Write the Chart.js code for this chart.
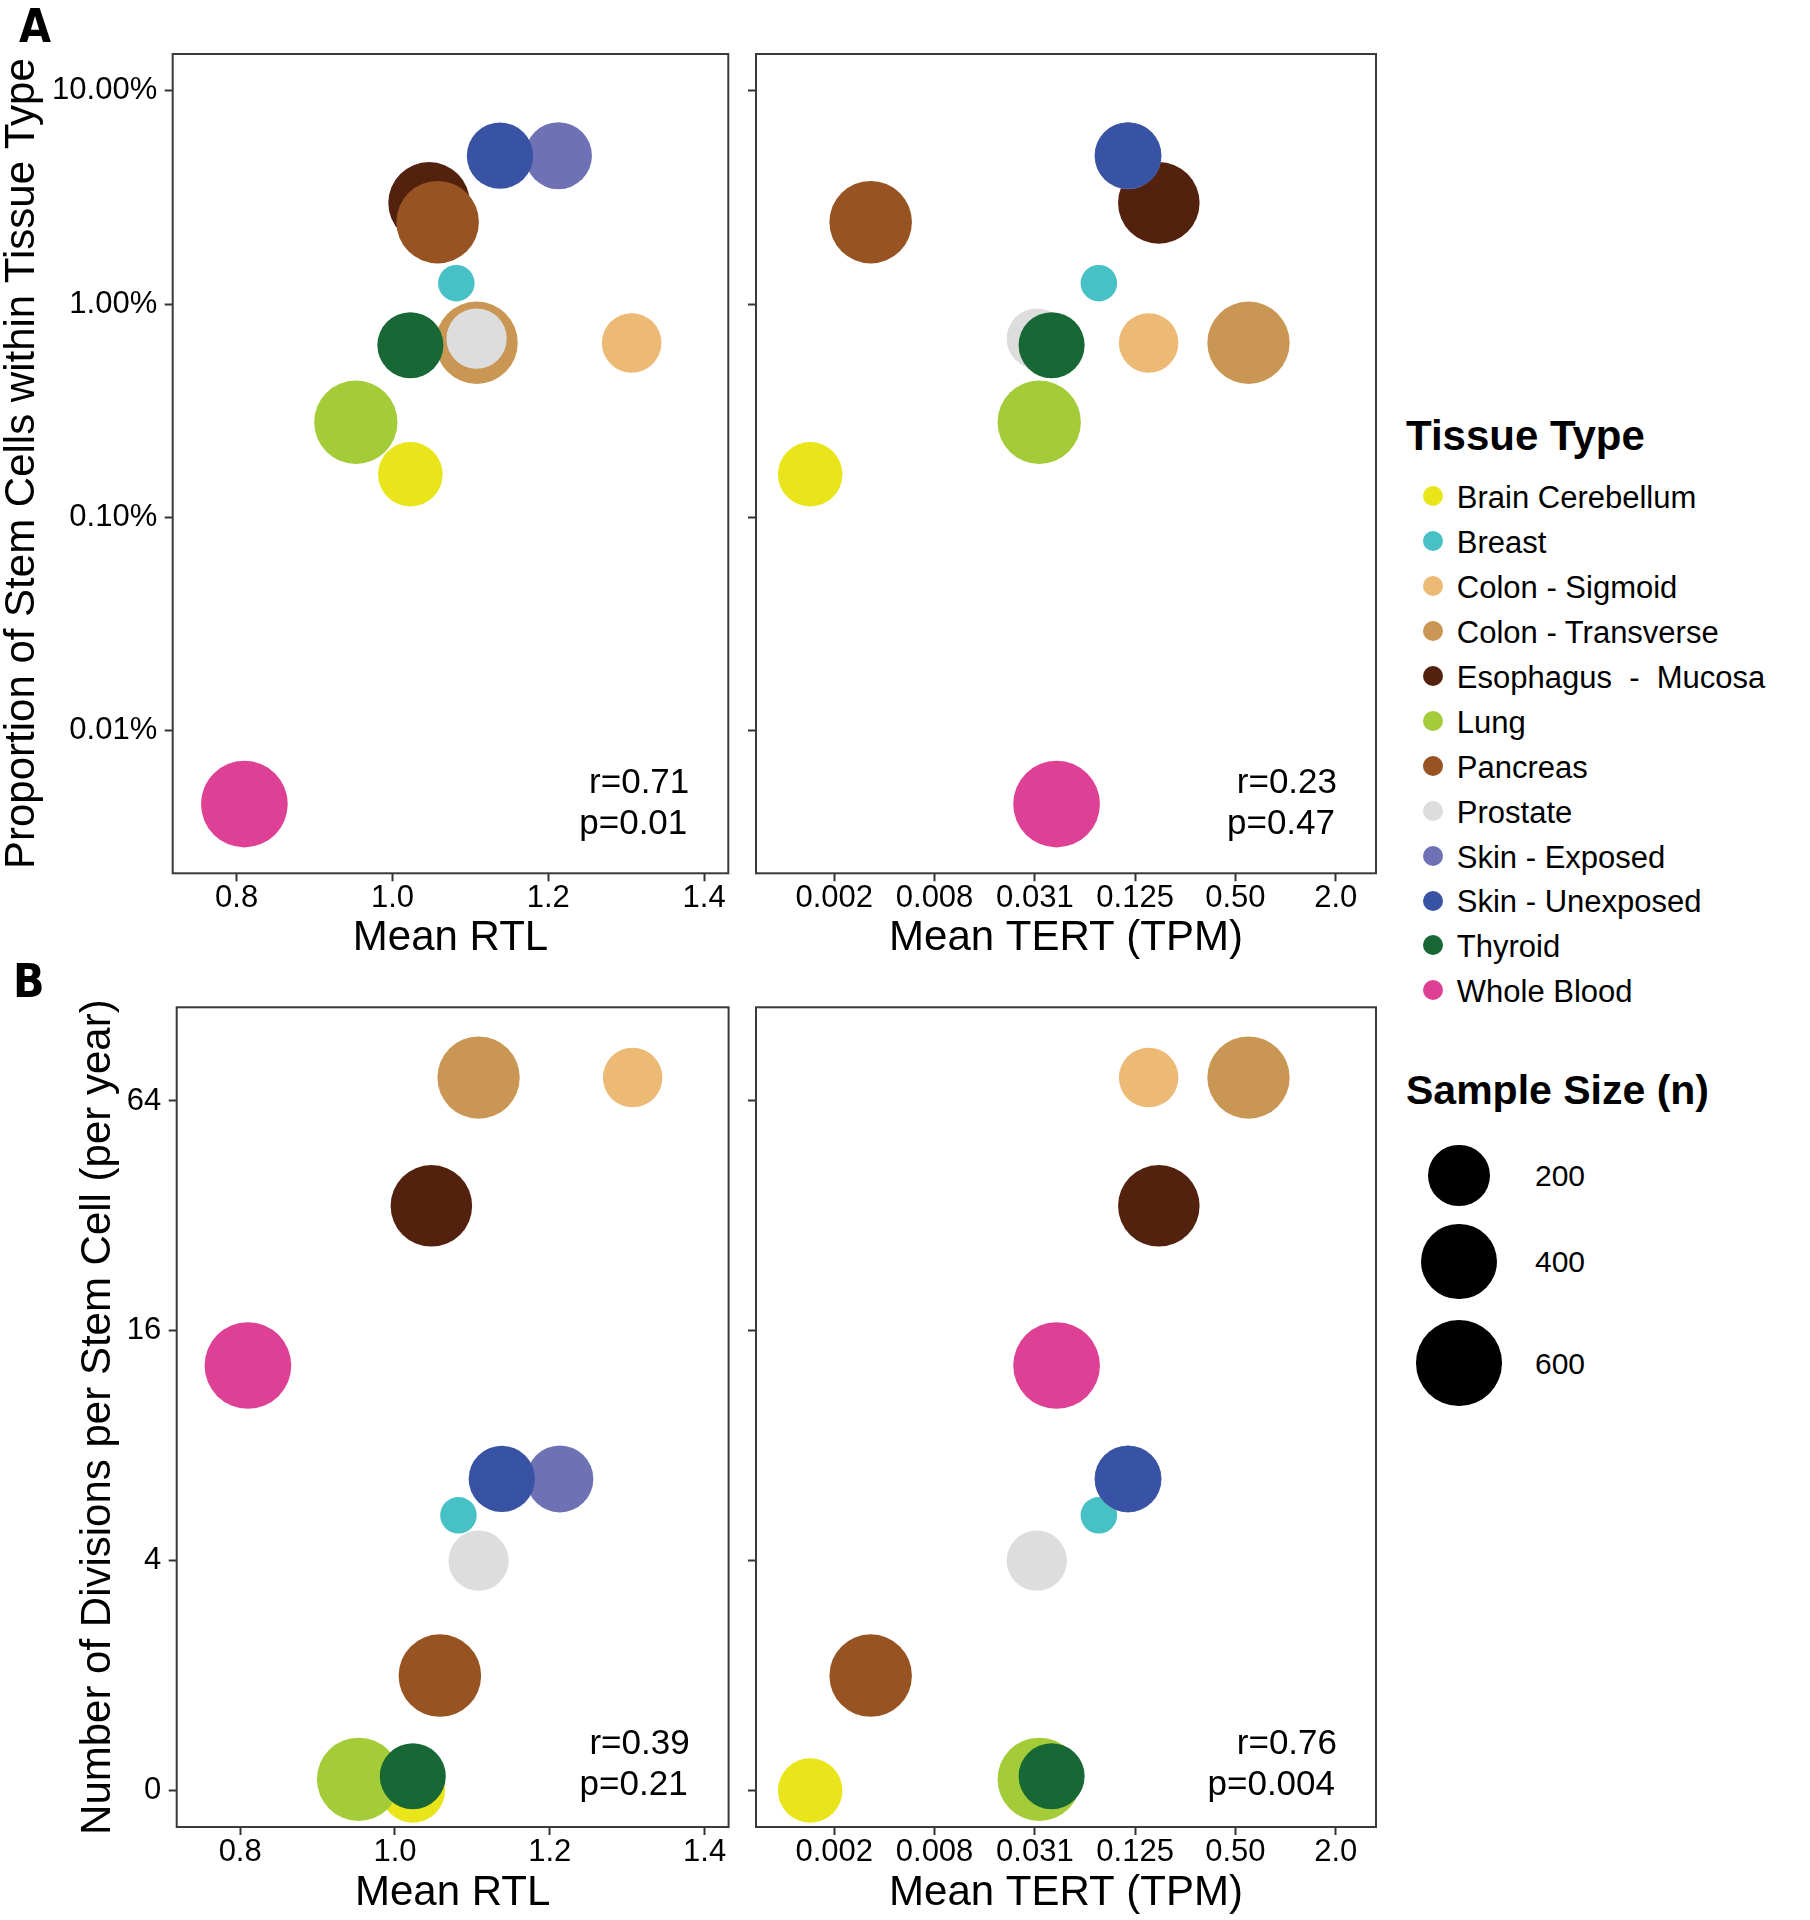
<!DOCTYPE html>
<html>
<head>
<meta charset="utf-8">
<title>Stem cells, RTL and TERT by tissue</title>
<script src="https://cdn.jsdelivr.net/npm/chart.js@4.4.1/dist/chart.umd.min.js"></script>
<style>
  body { margin:0; background:#fff; }
  #page { position:relative; width:1810px; height:1920px; background:#fff; overflow:hidden;
          font-family:'Liberation Sans', Arial, Helvetica, sans-serif; }
  canvas { position:absolute; }
  .txt { position:absolute; white-space:pre; line-height:1; color:#000; }
  .dot { position:absolute; border-radius:50%; }
  .letter { font-family:'Liberation Sans Narrow','DejaVu Sans Condensed','Liberation Sans',sans-serif; font-weight:bold; font-size:46px; }
</style>
</head>
<body>
<div id="page">
  <canvas id="chartA1" width="740" height="956" style="left:0px;top:24px;width:740px;height:956px"></canvas>
  <canvas id="chartA2" width="660" height="956" style="left:740px;top:24px;width:660px;height:956px"></canvas>
  <canvas id="chartB1" width="740" height="943" style="left:0px;top:977px;width:740px;height:943px"></canvas>
  <canvas id="chartB2" width="660" height="943" style="left:740px;top:977px;width:660px;height:943px"></canvas>
  <div class="txt letter" style="left:19px;top:3px">A</div>
  <div class="txt letter" style="left:13px;top:958px">B</div>
  <div id="legend"></div>
</div>
<script>
// tissues, in the order ggplot drew them (later ones sit on top)
const tissues = ['Brain Cerebellum', 'Breast', 'Colon - Sigmoid', 'Colon - Transverse',
  'Esophagus  -  Mucosa', 'Lung', 'Pancreas', 'Prostate', 'Skin - Exposed',
  'Skin - Unexposed', 'Thyroid', 'Whole Blood'];
const tissueColors = ['#E9E51A', '#47C1C5', '#EDBA76', '#CA9653', '#52220E', '#A3CC38',
  '#985323', '#DDDDDD', '#6E72B4', '#3853A4', '#176834', '#DD4095'];

// values
const sampleSize = [234, 58, 177, 528, 512, 549, 532, 184, 266, 257, 253, 622];
const meanRTL = [1.023, 1.082, 1.307, 1.108, 1.047, 0.953, 1.058, 1.108, 1.213, 1.138, 1.023, 0.810];
const meanTERT = [0.00140, 0.0757, 0.1507, 0.599, 0.1734, 0.0332, 0.00323, 0.0321, 0.1133, 0.1133, 0.0394, 0.0422];
const stemCellPct = [0.159, 1.252, 0.657, 0.658, 2.98, 0.279, 2.42, 0.688, 4.96, 4.96, 0.641, 0.00452];
const divisionsPerYear = [1.0, 5.26, 73.7, 73.7, 34.0, 1.07, 2.0, 4.0, 6.55, 6.55, 1.09, 12.98];

// axis ticks and labels
const rtlTicks = [0.8, 1.0, 1.2, 1.4];
const rtlTickLabels = ['0.8', '1.0', '1.2', '1.4'];
const tertTicks = [Math.pow(2, -9), Math.pow(2, -7), Math.pow(2, -5), Math.pow(2, -3), Math.pow(2, -1), 2];
const tertTickLabels = ['0.002', '0.008', '0.031', '0.125', '0.50', '2.0'];
const pctTicks = [0.01, 0.1, 1, 10];
const pctTickLabels = ['0.01%', '0.10%', '1.00%', '10.00%'];
const divTicks = [1, 4, 16, 64];
const divTickLabels = ['0', '4', '16', '64'];

const sizeLegendValues = [200, 400, 600];
const corrR = ['r=0.71', 'r=0.23', 'r=0.39', 'r=0.76'];
const corrP = ['p=0.01', 'p=0.47', 'p=0.21', 'p=0.004'];

const FONT = "'Liberation Sans', Arial, Helvetica, sans-serif";
Chart.defaults.font.family = FONT;
Chart.defaults.color = '#000';

// point size scale (diameter in px grows with sqrt of sample size, like scale_size)
const D_MIN = 36.5, D_MAX = 86.7;
function pointDiameter(n) {
  const nMin = Math.min(...sampleSize), nMax = Math.max(...sampleSize);
  return D_MIN + (D_MAX - D_MIN) * Math.sqrt((n - nMin) / (nMax - nMin));
}

// panel box + r / p text
const panelFrame = {
  id: 'panelFrame',
  afterDraw(chart, args, opts) {
    const ctx = chart.ctx, a = chart.chartArea;
    ctx.save();
    ctx.strokeStyle = '#3a3a3a';
    ctx.lineWidth = 2;
    ctx.strokeRect(a.left, a.top, a.right - a.left, a.bottom - a.top);
    ctx.fillStyle = '#000';
    ctx.font = '35px ' + FONT;
    ctx.textAlign = 'right';
    ctx.textBaseline = 'alphabetic';
    ctx.fillText(opts.r, a.right - 39, a.bottom - opts.rOff);
    ctx.fillText(opts.p, a.right - 41, a.bottom - opts.pOff);
    ctx.restore();
  }
};

function axisCfg(kind, min, max, ticks, labels, showLabels, title, titlePad) {
  const cfg = {
    type: kind,
    min: min,
    max: max,
    bounds: 'data',
    border: { display: false },
    grid: { drawOnChartArea: false, drawTicks: true, tickLength: 8, tickColor: '#333', tickWidth: 2, color: '#333' },
    ticks: {
      display: showLabels,
      autoSkip: false,
      maxRotation: 0,
      font: { size: 31, lineHeight: 1 },
      color: '#000',
      callback: (v, i) => labels[i]
    },
    afterBuildTicks: (scale) => { scale.ticks = ticks.map(v => ({ value: v })); },
    title: { display: !!title, text: title || '', color: '#000', font: { size: 42, lineHeight: 1 }, padding: titlePad }
  };
  return cfg;
}

function makePanel(canvasId, xs, ys, xAxis, yAxis, lay, idx) {
  const pts = xs.map((x, i) => ({ x: x, y: ys[i] }));
  const radii = sampleSize.map(n => pointDiameter(n) / 2);

  xAxis.ticks.padding = 2.1;
  xAxis.afterFit = (s) => { s.height = lay.xHeight; };
  yAxis.ticks.padding = 7.5;
  yAxis.afterFit = (s) => { s.width = lay.yWidth; };

  return new Chart(document.getElementById(canvasId), {
    type: 'scatter',
    data: {
      datasets: [{
        data: pts,
        backgroundColor: tissueColors,
        pointRadius: radii,
        pointHoverRadius: radii,
        pointBorderWidth: 0,
        borderWidth: 0,
        clip: false
      }]
    },
    options: {
      responsive: false,
      animation: false,
      devicePixelRatio: 1,
      events: [],
      layout: { autoPadding: false, padding: { top: lay.padTop, right: lay.padRight, left: 0, bottom: 0 } },
      plugins: {
        legend: { display: false },
        tooltip: { enabled: false },
        panelFrame: { r: corrR[idx], p: corrP[idx], rOff: lay.rOff, pOff: lay.pOff }
      },
      scales: { x: xAxis, y: yAxis }
    },
    plugins: [panelFrame]
  });
}

// panel A: proportion of stem cells
makePanel('chartA1', meanRTL, stemCellPct,
  axisCfg('linear', 0.718, 1.431, rtlTicks, rtlTickLabels, true, 'Mean RTL', { top: 0, bottom: 20.1 }),
  axisCfg('logarithmic', 0.00214, 14.87, pctTicks, pctTickLabels, true, 'Proportion of Stem Cells within Tissue Type', { top: 1.2, bottom: 0 }),
  { padTop: 30, padRight: 11.7, yWidth: 172.7, xHeight: 106.7, rOff: 80, pOff: 39.8 }, 0);

makePanel('chartA2', meanTERT, stemCellPct,
  axisCfg('logarithmic', 0.000662, 3.49, tertTicks, tertTickLabels, true, 'Mean TERT (TPM)', { top: 0, bottom: 20.1 }),
  axisCfg('logarithmic', 0.00214, 14.87, pctTicks, pctTickLabels, false, null, 0),
  { padTop: 30, padRight: 24, yWidth: 16, xHeight: 106.7, rOff: 80, pOff: 39.8 }, 1);

// panel B: divisions per stem cell
makePanel('chartB1', meanRTL, divisionsPerYear,
  axisCfg('linear', 0.718, 1.431, rtlTicks, rtlTickLabels, true, 'Mean RTL', { top: 0, bottom: 6 }),
  axisCfg('logarithmic', 0.8025, 112.6, divTicks, divTickLabels, true, 'Number of Divisions per Stem Cell (per year)', { top: 77, bottom: 0 }),
  { padTop: 30.3, padRight: 11.4, yWidth: 176.7, xHeight: 93, rOff: 73.5, pOff: 32.2 }, 2);

makePanel('chartB2', meanTERT, divisionsPerYear,
  axisCfg('logarithmic', 0.000662, 3.49, tertTicks, tertTickLabels, true, 'Mean TERT (TPM)', { top: 0, bottom: 6 }),
  axisCfg('logarithmic', 0.8025, 112.6, divTicks, divTickLabels, false, null, 0),
  { padTop: 30.3, padRight: 24, yWidth: 16, xHeight: 93, rOff: 73.5, pOff: 32.2 }, 3);

// shared legends (html)
const legend = document.getElementById('legend');
function addText(str, left, baseline, size, bold) {
  const d = document.createElement('div');
  d.className = 'txt';
  d.textContent = str;
  d.style.fontSize = size + 'px';
  if (bold) d.style.fontWeight = 'bold';
  d.style.left = left + 'px';
  d.style.top = (baseline - 0.8465 * size) + 'px';
  legend.appendChild(d);
}
function addDot(cx, cy, diam, color) {
  const d = document.createElement('div');
  d.className = 'dot';
  d.style.width = diam + 'px';
  d.style.height = diam + 'px';
  d.style.left = (cx - diam / 2) + 'px';
  d.style.top = (cy - diam / 2) + 'px';
  d.style.background = color;
  legend.appendChild(d);
}

addText('Tissue Type', 1406, 451, 42, true);
tissues.forEach((t, i) => {
  const base = 508.6 + i * 44.9;
  addDot(1432.6, base - 12.2, 20, tissueColors[i]);
  addText(t, 1456.8, base, 31, false);
});

addText('Sample Size (n)', 1406, 1105, 41, true);
const sizeKeyY = [1175.5, 1261.3, 1363.2];
sizeLegendValues.forEach((n, i) => {
  addDot(1459.2, sizeKeyY[i], pointDiameter(n), '#000');
  addText(String(n), 1535, sizeKeyY[i] + 11.2, 30, false);
});
</script>
</body>
</html>
